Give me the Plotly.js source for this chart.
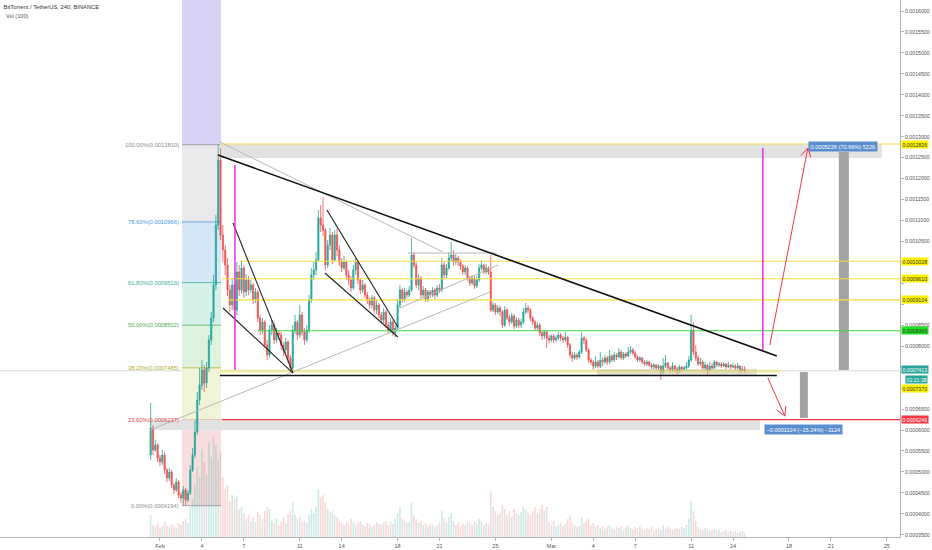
<!DOCTYPE html>
<html><head><meta charset="utf-8">
<script src="https://cdn.plot.ly/plotly-3.0.1.min.js"></script>
<style>html,body{margin:0;padding:0;background:#fff}#chart{width:932px;height:550px}</style>
</head><body><div id="chart"></div>
<script>
// 4h candles, BTT/USDT Binance, starting 2019-01-31 08:00
const firstOpen = 0.0005404;
const closes = [0.0006048,0.0005523,0.0005642,0.0005332,0.0005237,0.0005404,0.0005045,0.0004855,0.0004998,0.0004688,
0.0004568,0.0004759,0.0004449,0.0004377,0.0004568,0.0004330,0.0004497,0.0005045,0.0005404,0.0005952,
0.0006716,0.0007074,0.0007432,0.0007121,0.0007480,0.0008148,0.0008673,0.0009461,0.0010893,0.0012444,
0.0010654,0.0010296,0.0009938,0.0009341,0.0008983,0.0009461,0.0008864,0.0009771,0.0009341,0.0009866,
0.0009293,0.0009580,0.0009341,0.0009461,0.0009103,0.0009293,0.0008673,0.0008387,0.0008577,0.0008029,
0.0007790,0.0008387,0.0008506,0.0008148,0.0008315,0.0008267,0.0008029,0.0007909,0.0008100,0.0007718,
0.0007480,0.0008387,0.0008577,0.0008267,0.0008745,0.0008339,0.0008148,0.0008387,0.0009103,0.0009699,
0.0009819,0.0010057,0.0011060,0.0010893,0.0010773,0.0009938,0.0010415,0.0010654,0.0010057,0.0010654,
0.0010296,0.0010010,0.0009866,0.0010010,0.0009699,0.0009580,0.0009389,0.0009819,0.0010010,0.0009580,
0.0009341,0.0009461,0.0009222,0.0009103,0.0008983,0.0009150,0.0008864,0.0008983,0.0008745,0.0008625,
0.0008816,0.0008506,0.0008387,0.0008577,0.0008315,0.0008434,0.0008983,0.0009341,0.0009103,0.0009293,
0.0009222,0.0009341,0.0010177,0.0009938,0.0009461,0.0009628,0.0009222,0.0009341,0.0009103,0.0009293,
0.0009222,0.0009341,0.0009222,0.0009389,0.0009341,0.0009938,0.0009699,0.0009866,0.0010105,0.0010177,
0.0010010,0.0010105,0.0010010,0.0009914,0.0009771,0.0009866,0.0009628,0.0009508,0.0009628,0.0009437,
0.0009580,0.0009866,0.0009938,0.0009771,0.0009866,0.0009771,0.0008864,0.0008983,0.0008816,0.0008912,
0.0008816,0.0008506,0.0008864,0.0008673,0.0008577,0.0008721,0.0008482,0.0008625,0.0008506,0.0008577,
0.0008816,0.0008912,0.0008864,0.0008673,0.0008577,0.0008434,0.0008506,0.0008315,0.0008243,0.0008339,
0.0008196,0.0008148,0.0008243,0.0008148,0.0008196,0.0008267,0.0008196,0.0008148,0.0008220,0.0008029,
0.0007790,0.0007718,0.0007790,0.0007742,0.0007862,0.0008196,0.0008148,0.0007909,0.0007670,0.0007623,
0.0007527,0.0007623,0.0007527,0.0007670,0.0007623,0.0007718,0.0007623,0.0007766,0.0007670,0.0007790,
0.0007742,0.0007862,0.0007718,0.0007814,0.0007766,0.0007862,0.0007909,0.0007838,0.0007742,0.0007670,
0.0007718,0.0007623,0.0007575,0.0007623,0.0007551,0.0007504,0.0007551,0.0007480,0.0007527,0.0007384,
0.0007527,0.0007599,0.0007480,0.0007432,0.0007527,0.0007456,0.0007408,0.0007504,0.0007456,0.0007480,
0.0007527,0.0007670,0.0008387,0.0007862,0.0007718,0.0007575,0.0007623,0.0007480,0.0007551,0.0007432,
0.0007527,0.0007480,0.0007623,0.0007551,0.0007575,0.0007527,0.0007575,0.0007504,0.0007551,0.0007504,
0.0007527,0.0007480,0.0007527,0.0007432,0.0007456,0.0007413];
const highs = [0.0006644,0.0006119,0.0005762,0.0005690,0.0005404,0.0005523,0.0005476,0.0005093,0.0005093,0.0005045,
0.0004735,0.0004855,0.0004807,0.0004521,0.0004664,0.0004616,0.0004568,0.0005165,0.0005571,0.0006239,
0.0006907,0.0007480,0.0007670,0.0007551,0.0007623,0.0008267,0.0008816,0.0009699,0.0011131,0.0012810,
0.0012730,0.0010893,0.0010415,0.0010105,0.0009461,0.0009628,0.0009532,0.0010010,0.0009938,0.0010057,
0.0009938,0.0009723,0.0009675,0.0009580,0.0009508,0.0009389,0.0009341,0.0008745,0.0008673,0.0008625,
0.0008148,0.0008506,0.0008625,0.0008577,0.0008434,0.0008387,0.0008339,0.0008100,0.0008196,0.0008148,
0.0007790,0.0008506,0.0008745,0.0008625,0.0008983,0.0008816,0.0008434,0.0008506,0.0009222,0.0009866,
0.0010010,0.0010248,0.0011251,0.0011370,0.0011561,0.0010821,0.0010535,0.0010821,0.0010726,0.0010773,
0.0010821,0.0010415,0.0010105,0.0010153,0.0010057,0.0009819,0.0009675,0.0009938,0.0010105,0.0010057,
0.0009628,0.0009580,0.0009508,0.0009293,0.0009174,0.0009222,0.0009198,0.0009103,0.0009031,0.0008816,
0.0008912,0.0008864,0.0008577,0.0008673,0.0008625,0.0008506,0.0009103,0.0009461,0.0009389,0.0009389,
0.0009341,0.0009437,0.0010582,0.0010248,0.0010010,0.0009723,0.0009675,0.0009437,0.0009389,0.0009341,
0.0009341,0.0009413,0.0009389,0.0009461,0.0009484,0.0010105,0.0010010,0.0009962,0.0010248,0.0010487,
0.0010296,0.0010201,0.0010153,0.0010081,0.0009962,0.0009938,0.0009914,0.0009675,0.0009699,0.0009675,
0.0009675,0.0009962,0.0010057,0.0009962,0.0009962,0.0009914,0.0010177,0.0009055,0.0009031,0.0008983,
0.0008960,0.0008864,0.0008960,0.0008912,0.0008745,0.0008792,0.0008768,0.0008697,0.0008673,0.0008649,
0.0008912,0.0009031,0.0008983,0.0008912,0.0008721,0.0008625,0.0008577,0.0008554,0.0008387,0.0008387,
0.0008387,0.0008267,0.0008291,0.0008291,0.0008267,0.0008339,0.0008315,0.0008243,0.0008339,0.0008243,
0.0008076,0.0007862,0.0007862,0.0007838,0.0007909,0.0008339,0.0008243,0.0008196,0.0007957,0.0007718,
0.0007670,0.0007766,0.0007670,0.0007862,0.0007742,0.0007790,0.0007766,0.0007909,0.0007814,0.0007862,
0.0007838,0.0007957,0.0007909,0.0007862,0.0007862,0.0007981,0.0008005,0.0007957,0.0007886,0.0007790,
0.0007766,0.0007742,0.0007670,0.0007670,0.0007647,0.0007599,0.0007599,0.0007575,0.0007575,0.0007551,
0.0007718,0.0007790,0.0007623,0.0007527,0.0007623,0.0007551,0.0007504,0.0007551,0.0007527,0.0007527,
0.0007623,0.0007766,0.0008745,0.0008577,0.0008029,0.0007790,0.0007718,0.0007670,0.0007623,0.0007575,
0.0007623,0.0007599,0.0007670,0.0007647,0.0007623,0.0007623,0.0007623,0.0007599,0.0007623,0.0007575,
0.0007599,0.0007575,0.0007599,0.0007551,0.0007527,0.0007527];
const lows = [0.0005284,0.0005404,0.0005476,0.0005237,0.0005141,0.0005165,0.0004950,0.0004759,0.0004783,0.0004616,
0.0004473,0.0004521,0.0004377,0.0004258,0.0004210,0.0004194,0.0004282,0.0004449,0.0004998,0.0005332,
0.0005881,0.0006597,0.0006955,0.0006907,0.0007002,0.0007384,0.0008029,0.0008577,0.0009341,0.0010773,
0.0010535,0.0010010,0.0009699,0.0009198,0.0008816,0.0008864,0.0008673,0.0008745,0.0009198,0.0009246,
0.0009150,0.0009198,0.0009222,0.0009270,0.0009007,0.0009031,0.0008577,0.0008267,0.0008291,0.0007957,
0.0007670,0.0007718,0.0008267,0.0008053,0.0008076,0.0008148,0.0007909,0.0007766,0.0007838,0.0007623,
0.0007384,0.0007432,0.0008291,0.0008148,0.0008196,0.0008243,0.0008029,0.0008100,0.0008315,0.0009031,
0.0009580,0.0009699,0.0010010,0.0010726,0.0010630,0.0009819,0.0009866,0.0010296,0.0009962,0.0010010,
0.0010153,0.0009914,0.0009771,0.0009819,0.0009580,0.0009461,0.0009293,0.0009341,0.0009699,0.0009484,
0.0009246,0.0009270,0.0009150,0.0009007,0.0008888,0.0008912,0.0008792,0.0008768,0.0008673,0.0008530,
0.0008554,0.0008434,0.0008315,0.0008339,0.0008243,0.0008220,0.0008387,0.0008912,0.0009031,0.0009055,
0.0009150,0.0009174,0.0009293,0.0009866,0.0009389,0.0009341,0.0009150,0.0009150,0.0009055,0.0009055,
0.0009150,0.0009174,0.0009126,0.0009174,0.0009270,0.0009293,0.0009628,0.0009628,0.0009819,0.0010010,
0.0009914,0.0009938,0.0009914,0.0009819,0.0009699,0.0009699,0.0009556,0.0009437,0.0009461,0.0009365,
0.0009389,0.0009532,0.0009819,0.0009723,0.0009723,0.0009699,0.0008816,0.0008816,0.0008745,0.0008768,
0.0008721,0.0008434,0.0008458,0.0008625,0.0008482,0.0008530,0.0008410,0.0008434,0.0008434,0.0008434,
0.0008530,0.0008768,0.0008792,0.0008601,0.0008506,0.0008363,0.0008363,0.0008243,0.0008148,0.0008172,
0.0007957,0.0008076,0.0008100,0.0008076,0.0008100,0.0008148,0.0008124,0.0008076,0.0008100,0.0007957,
0.0007718,0.0007623,0.0007670,0.0007670,0.0007694,0.0007814,0.0008053,0.0007862,0.0007599,0.0007551,
0.0007432,0.0007480,0.0007480,0.0007480,0.0007527,0.0007575,0.0007551,0.0007575,0.0007623,0.0007623,
0.0007670,0.0007718,0.0007670,0.0007670,0.0007718,0.0007742,0.0007814,0.0007790,0.0007694,0.0007623,
0.0007623,0.0007575,0.0007527,0.0007527,0.0007504,0.0007456,0.0007456,0.0007432,0.0007432,0.0007193,
0.0007337,0.0007480,0.0007432,0.0007360,0.0007384,0.0007384,0.0007337,0.0007360,0.0007384,0.0007408,
0.0007432,0.0007480,0.0007623,0.0007790,0.0007647,0.0007527,0.0007527,0.0007432,0.0007432,0.0007337,
0.0007384,0.0007432,0.0007456,0.0007504,0.0007504,0.0007480,0.0007504,0.0007456,0.0007480,0.0007456,
0.0007480,0.0007432,0.0007456,0.0007360,0.0007384,0.0007360];
// Volume (relative units)
const volumes = [22,12,10,14,9,11,15,12,10,13,11,9,14,12,16,18,14,
30,38,52,70,60,88,75,62,95,80,100,92,78,
85,60,48,52,36,42,38,40,28,30,24,
18,22,16,20,15,25,22,18,26,30,28,16,14,18,12,15,20,14,22,26,35,22,18,20,15,16,14,22,28,24,
30,48,40,42,35,28,25,26,22,20,
16,14,12,15,13,18,15,12,14,16,12,11,14,13,10,12,15,13,12,14,16,12,15,13,18,
24,30,18,16,14,15,34,
22,18,14,16,12,14,11,13,12,10,12,14,26,18,15,20,24,16,12,14,11,13,12,15,14,12,16,13,18,15,12,14,13,
46,30,26,22,24,32,28,22,26,20,28,24,22,25,30,28,24,22,26,30,24,28,32,26,30,
14,12,16,10,12,14,11,13,18,22,15,12,10,11,20,14,16,18,12,14,10,12,9,11,8,10,12,9,8,10,
9,11,8,10,12,9,8,10,9,11,8,7,9,8,10,7,8,9,7,12,8,10,9,7,8,9,8,10,9,12,
18,36,26,16,
10,8,7,9,8,6,7,8,6,7,5,6,7,5,6,5,6,4,5,6,4];

const startMs = Date.UTC(2019,0,31,8,0);
const stepMs = 4*3600*1000;
const fmt = ms => new Date(ms).toISOString().slice(0,16).replace('T',' ');
const times = closes.map((_, i) => fmt(startMs + i*stepMs));
const opens = closes.map((c, i) => i === 0 ? firstOpen : closes[i-1]);
const volColors = closes.map((c, i) => c >= opens[i] ? 'rgba(38,166,154,0.22)' : 'rgba(239,83,80,0.22)');

// Fibonacci retracement levels
const fibRatios = ['100.00%','78.60%','61.80%','50.00%','38.20%','23.60%','0.00%'];
const fibPrices = [0.0012810,0.0010966,0.0009519,0.0008502,0.0007485,0.0006237,0.0004194];
const fibColors = ['#8a8d96','#3f9be0','#3bb39b','#4caf50','#b0b02e','#e0464b','#8a8d96'];
const fibFills = ['#e9e9ec','#d6e8f7','#d5f1ea','#def3de','#f1f4d6','#f8dede'];

// Horizontal levels on the price scale
const levelPrices = [0.0012826,0.0010028,0.0009610,0.0009104,0.0008369,0.0007370,0.0006246];
const levelBg = ['#fff200','#fff200','#fff200','#fff200','#22e022','#fff200','#f23645'];
const levelFg = ['#333','#333','#333','#333','#333','#333','#fff'];
const lastPrice = 0.0007413;
const countdown = '02:21:38';

const xTickVals = ['2019-02-01','2019-02-04','2019-02-07','2019-02-11','2019-02-14','2019-02-18','2019-02-21','2019-02-25',
  '2019-03-01','2019-03-04','2019-03-07','2019-03-11','2019-03-14','2019-03-18','2019-03-21','2019-03-25'];
const xTickText = ['Feb','4','7','11','14','18','21','25','Mar','4','7','11','14','18','21','25'];
const yTickVals = [];
for (let k = 7; k <= 32; k++) yTickVals.push(k*0.00005);
// tick labels hidden behind the highlighted price-scale labels
const hiddenTicks = ['0.0010000','0.0009500','0.0009000','0.0007500','0.0007000'];
const yTickText = yTickVals.map(v => v.toFixed(7)).map(t => hiddenTicks.includes(t) ? '' : t);

const shapes = [];
const line = (x0,y0,x1,y1,color,width,extra) => shapes.push(Object.assign({type:'line',xref:'x',yref:'y',x0,y0,x1,y1,line:{color,width}},extra||{}));
const rect = (x0,y0,x1,y1,fill,extra) => shapes.push(Object.assign({type:'rect',xref:'x',yref:'y',x0,y0,x1,y1,fillcolor:fill,line:{width:0},layer:'below'},extra||{}));

// fib zone
const fibX0 = '2019-02-02 13:45', fibX1 = '2019-02-05 08:45';
rect(fibX0, fibPrices[0], fibX1, 0.00163, '#d6d3f5');
for (let k = 0; k < 6; k++) rect(fibX0, fibPrices[k], fibX1, fibPrices[k+1], fibFills[k]);
for (let k = 0; k < 7; k++) line(fibX0, fibPrices[k], fibX1, fibPrices[k], fibColors[k], 0.8, {layer:'below'});

// measure boxes
rect('2019-02-05 07:00', 0.0012826, '2019-03-24 15:35', 0.0012492, '#e2e2e2');
rect('2019-01-31 07:00', 0.0006246, '2019-03-15 22:00', 0.0006000, '#e2e2e2');
rect('2019-03-04 06:15', 0.0007456, '2019-03-15 16:50', 0.0007289, 'rgba(160,160,160,0.35)', {layer:'above'});
rect('2019-03-21 13:40', 0.0012635, '2019-03-22 06:50', 0.0007432, '#a3a3a3', {layer:'above'});
rect('2019-03-18 18:45', 0.0007384, '2019-03-19 08:25', 0.0006287, '#a3a3a3', {layer:'above'});

// last price line
shapes.push({type:'line',xref:'paper',yref:'y',x0:0,x1:1,y0:lastPrice,y1:lastPrice,line:{color:'#cfcfcf',width:0.8},layer:'below'});

// horizontal levels
line('2019-02-05 07:00', 0.0012826, '2019-03-25 23:59', 0.0012826, '#f5e13c', 1.2);
line('2019-02-06 17:30', 0.0010028, '2019-03-25 23:59', 0.0010028, '#f5e13c', 1.2);
line('2019-02-05 10:00', 0.0009610, '2019-03-25 23:59', 0.0009610, '#f5e13c', 1.2);
line('2019-02-05 21:00', 0.0009104, '2019-03-25 23:59', 0.0009104, '#f5e13c', 1.2);
line('2019-02-08 00:15', 0.0008369, '2019-03-25 23:59', 0.0008369, '#3cd83c', 1.2);
line('2019-02-05 10:30', 0.0006246, '2019-03-25 23:59', 0.0006246, '#f23645', 1.2);
line('2019-02-05 07:00', 0.0007400, '2019-03-17 08:20', 0.0007400, 'rgba(240,228,70,0.45)', 3);

// light grey trend lines
line('2019-02-05 07:00', 0.0012874, '2019-02-21 05:50', 0.0010248, '#b8b8b8', 1);
line('2019-01-31 07:00', 0.0006000, '2019-02-24 14:35', 0.0009293, '#b8b8b8', 1);
line('2019-02-18 04:00', 0.0008912, '2019-02-25 04:20', 0.0009938, '#b8b8b8', 1);
line('2019-02-18 17:45', 0.0010224, '2019-02-25 02:35', 0.0010224, '#b8b8b8', 1);

// black trend lines
line('2019-02-05 03:35', 0.0012563, '2019-03-17 03:10', 0.0007766, '#111', 1.6);
line('2019-02-05 07:00', 0.0007300, '2019-03-17 03:10', 0.0007300, '#111', 1.6);
line('2019-02-06 05:20', 0.0010940, '2019-02-10 12:20', 0.0007360, '#222', 1.1);
line('2019-02-05 12:10', 0.0008912, '2019-02-10 12:20', 0.0007360, '#222', 1.1);
line('2019-02-12 22:40', 0.0011251, '2019-02-18 00:30', 0.0008458, '#222', 1.1);
line('2019-02-12 19:15', 0.0009747, '2019-02-18 00:30', 0.0008220, '#222', 1.1);

// magenta verticals
line('2019-02-06 08:45', 0.0012325, '2019-02-06 08:45', 0.0007432, '#e81ee8', 1.4);
line('2019-03-16 03:10', 0.0012730, '2019-03-16 03:10', 0.0007909, '#e81ee8', 1.4);

// red arrows
line('2019-03-16 15:10', 0.0008029, '2019-03-19 08:25', 0.0012730, '#f23645', 1);
line('2019-03-19 08:25', 0.0012730, '2019-03-18 20:25', 0.0012550, '#f23645', 1);
line('2019-03-19 08:25', 0.0012730, '2019-03-19 13:40', 0.0012510, '#f23645', 1);
line('2019-03-16 11:45', 0.0007241, '2019-03-17 16:55', 0.0006334, '#f23645', 1);
line('2019-03-17 16:55', 0.0006334, '2019-03-17 18:40', 0.0006573, '#f23645', 1);
line('2019-03-17 16:55', 0.0006334, '2019-03-17 03:10', 0.0006477, '#f23645', 1);

const F = 'Liberation Sans, Arial, sans-serif';
const annotations = [];
// fib labels
for (let k = 0; k < 7; k++) {
  annotations.push({xref:'x',yref:'y',x:'2019-02-02 11:30',y:fibPrices[k],xanchor:'right',yanchor:'middle',showarrow:false,
    text:fibRatios[k]+'('+fibPrices[k].toFixed(7)+')',font:{family:F,size:5.8,color:fibColors[k]}});
}
// price scale labels
const labelAt = [0.0012826,0.0010028,0.0009610,0.0009104,0.0008369,0.0006990,0.0006246];
for (let k = 0; k < levelPrices.length; k++) {
  annotations.push({xref:'paper',yref:'y',x:1,y:labelAt[k],xanchor:'left',yanchor:'middle',xshift:1,showarrow:false,
    text:levelPrices[k].toFixed(7),bgcolor:levelBg[k],borderpad:0.5,font:{family:F,size:5.2,color:levelFg[k]}});
}
annotations.push({xref:'paper',yref:'y',x:1,y:0.0007445,xanchor:'left',yanchor:'middle',xshift:1,showarrow:false,
  text:lastPrice.toFixed(7),bgcolor:'#26a69a',borderpad:0.5,font:{family:F,size:5.2,color:'#fff'}});
annotations.push({xref:'paper',yref:'y',x:1,y:0.0007215,xanchor:'left',yanchor:'middle',xshift:5,showarrow:false,
  text:countdown,bgcolor:'#26a69a',borderpad:0.5,font:{family:F,size:5.2,color:'#fff'}});
// measure labels
annotations.push({xref:'x',yref:'y',x:'2019-03-21 20:30',y:0.0012778,xanchor:'center',yanchor:'middle',showarrow:false,
  text:'0.0005226 (70.66%) 5226',bgcolor:'#5b8ed0',borderpad:1.5,font:{family:F,size:5.6,color:'#fff'}});
annotations.push({xref:'x',yref:'y',x:'2019-03-19 01:40',y:0.0006024,xanchor:'center',yanchor:'middle',showarrow:false,
  text:'\u22120.0001124 (\u221215.24%) \u22121124',bgcolor:'#5b8ed0',borderpad:1.5,font:{family:F,size:5.6,color:'#fff'}});
annotations.push({xref:'paper',yref:'paper',x:0.004,y:1-16/537,xanchor:'left',yanchor:'middle',showarrow:false,
  text:'Vol (100)',font:{family:F,size:5.6,color:'#555'}});

const traces = [
  {type:'bar',x:times,y:volumes,yaxis:'y2',marker:{color:volColors,line:{width:0}},width:stepMs*0.7,hoverinfo:'skip'},
  {type:'candlestick',x:times,open:opens,high:highs,low:lows,close:closes,whiskerwidth:0,
   increasing:{line:{color:'#26a69a',width:0.8},fillcolor:'#26a69a'},
   decreasing:{line:{color:'#ef5350',width:0.8},fillcolor:'#ef5350'},hoverinfo:'skip'}
];

const layout = {
  width:932,height:550,margin:{l:0,r:32,t:0,b:13},
  paper_bgcolor:'#fff',plot_bgcolor:'#fff',showlegend:false,hovermode:false,
  font:{family:F,color:'#555'},
  title:{text:'BitTorrent / TetherUS, 240, BINANCE',x:0.004,xref:'paper',xanchor:'left',y:1-7/550,yref:'container',yanchor:'middle',font:{family:F,size:5.8,color:'#333'}},
  xaxis:{type:'date',range:['2019-01-20 13:19','2019-03-25 22:40'],rangeslider:{visible:false},
    tickmode:'array',tickvals:xTickVals,ticktext:xTickText,showgrid:false,zeroline:false,
    showline:true,linecolor:'#b2b5be',linewidth:1,ticks:'outside',ticklen:3,tickcolor:'#b2b5be',
    tickfont:{family:F,size:5.5,color:'#555'}},
  yaxis:{side:'right',range:[0.0003447,0.0016263],tickmode:'array',tickvals:yTickVals,ticktext:yTickText,
    showgrid:false,zeroline:false,showline:true,linecolor:'#b2b5be',linewidth:1,ticks:'outside',ticklen:3,tickcolor:'#b2b5be',
    tickfont:{family:F,size:5.2,color:'#555'}},
  yaxis2:{overlaying:'y',range:[0,537],visible:false,fixedrange:true},
  shapes, annotations
};
Plotly.newPlot('chart', traces, layout, {staticPlot:true,displayModeBar:false});
</script>
</body></html>
